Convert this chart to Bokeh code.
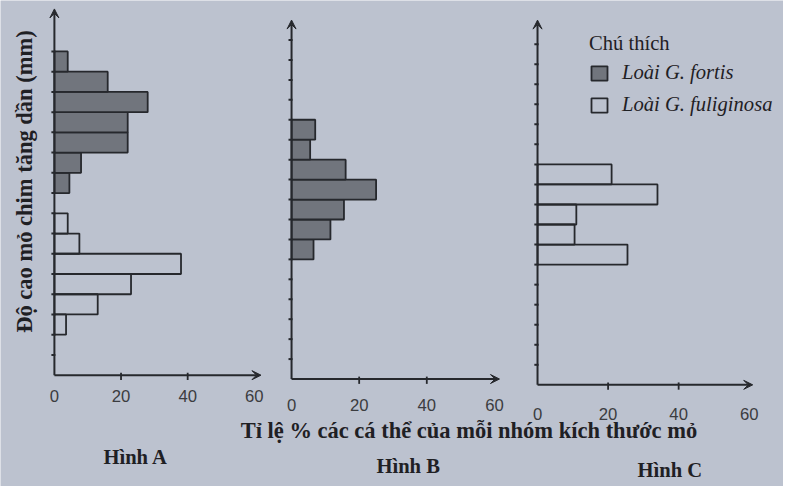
import math
from bokeh.plotting import figure
from bokeh.models import Range1d, Arrow, VeeHead, Legend, LegendItem
from bokeh.core.properties import value
from bokeh.embed import file_html
from bokeh.resources import INLINE

# ---------------- data (size class index from the bottom; % of individuals) ----------------
a_fortis_class = [10, 11, 12, 13, 14, 15, 16]
a_fortis_pct = [4.5, 8, 22, 22, 28, 16, 4]
a_fulig_class = [3, 4, 5, 6, 7, 8]
a_fulig_pct = [3.5, 13, 23, 38, 7.5, 4]
b_fortis_class = [7, 8, 9, 10, 11, 12, 13]
b_fortis_pct = [6.5, 11.5, 15.5, 25, 16, 5.5, 7]
c_fulig_class = [7, 8, 9, 10, 11]
c_fulig_pct = [25.5, 10.5, 11, 34, 21]

x_ticks = [0, 20, 40, 60]
x_tick_labels = ["0", "20", "40", "60"]
a_y_ticks = list(range(1, 17))
b_y_ticks = list(range(1, 18))
c_y_ticks = list(range(1, 18))
panel_titles = ["Hình A", "Hình B", "Hình C"]
y_title = "Độ cao mỏ chim tăng dần (mm)"
x_title = "Tỉ lệ % các cá thể của mỗi nhóm kích thước mỏ"
legend_title = "Chú thích"
fortis_name = "Loài G. fortis"
fulig_name = "Loài G. fuliginosa"

# ---------------- styles / layout ----------------
BG = "#bcc2cf"
DARK = "#71757d"
EDGE = "#26282d"
TXT = "#1f2024"
SERIF = "Liberation Serif"

# the canvas shows a 799 x 502 layout area scaled into 783 x 486 px
W, H = 783, 486
RW, RH = 799, 502
K = W / RW

def fs(px):
    return f"{px * K:.1f}px"

# panel geometry (layout units): origin, units per % and per size class, tick-label row
geom = {
    "A": dict(x0=55, y0=387, sx=3.4, sy=20.9, ly=409, xend=62, yend=18.1),
    "B": dict(x0=297, y0=391, sx=3.45, sy=20.6, ly=418, xend=61.5, yend=18.0),
    "C": dict(x0=548, y0=397, sx=3.6, sy=20.7, ly=427, xend=61, yend=18.2),
}

p = figure(width=W, height=H, x_range=Range1d(0, RW), y_range=Range1d(RH, 0),
           x_axis_type=None, y_axis_type=None, output_backend="svg",
           toolbar_location=None, min_border=0, background_fill_color=BG,
           border_fill_color=BG, outline_line_color=None)

for name, g in geom.items():
    p.extra_x_ranges[name] = Range1d((0 - g["x0"]) / g["sx"], (RW - g["x0"]) / g["sx"])
    p.extra_y_ranges[name] = Range1d((g["y0"] - RH) / g["sy"], (g["y0"] - 0) / g["sy"])

def bars(name, cls, pct, filled):
    return p.hbar(y=[c - 0.5 for c in cls], height=1, left=0, right=pct,
                  x_range_name=name, y_range_name=name,
                  fill_color=DARK if filled else BG, fill_alpha=1 if filled else 0,
                  line_color=EDGE, line_width=1.8)

ra1 = bars("A", a_fortis_class, a_fortis_pct, True)
ra2 = bars("A", a_fulig_class, a_fulig_pct, False)
rb1 = bars("B", b_fortis_class, b_fortis_pct, True)
rc1 = bars("C", c_fulig_class, c_fulig_pct, False)

yticks = {"A": a_y_ticks, "B": b_y_ticks, "C": c_y_ticks}
for name, g in geom.items():
    kw = dict(x_range_name=name, y_range_name=name)
    p.add_layout(Arrow(end=VeeHead(size=9, fill_color=EDGE, line_color=EDGE, line_width=1),
                       x_start=0, y_start=0, x_end=g["xend"], y_end=0,
                       line_color=EDGE, line_width=2, **kw))
    p.add_layout(Arrow(end=VeeHead(size=9, fill_color=EDGE, line_color=EDGE, line_width=1),
                       x_start=0, y_start=0, x_end=0, y_end=g["yend"],
                       line_color=EDGE, line_width=2, **kw))
    yt = yticks[name]
    p.segment(x0=[-0.9] * len(yt), y0=yt, x1=[0.3] * len(yt), y1=yt,
              line_color=EDGE, line_width=2, **kw)
    mid = [t for t in x_ticks if 0 < t < 60]
    p.segment(x0=mid, y0=[2.5 / g["sy"]] * len(mid), x1=mid, y1=[-5 / g["sy"]] * len(mid),
              line_color=EDGE, line_width=1.8, **kw)
    ly = (g["y0"] - g["ly"]) / g["sy"]
    p.text(x=x_ticks, y=[ly] * len(x_ticks), text=x_tick_labels,
           text_align="center", text_baseline="middle",
           text_font=value("Liberation Sans"), text_font_size=fs(17),
           text_color="#3b3c40", **kw)

# titles / axis labels
p.text(x=[25], y=[187], text=[y_title], angle=math.pi / 2, text_align="center",
       text_baseline="middle", text_font=value(SERIF), text_font_style="bold",
       text_font_size=fs(23), text_color=TXT)
p.text(x=[478], y=[444], text=[x_title], text_align="center", text_baseline="middle",
       text_font=value(SERIF), text_font_style="bold", text_font_size=fs(23),
       text_color=TXT)
p.text(x=[138, 416, 683], y=[472, 481, 485], text=panel_titles, text_align="center",
       text_baseline="middle", text_font=value(SERIF), text_font_style="bold",
       text_font_size=fs(21), text_color=TXT)

legend = Legend(items=[LegendItem(label=value(fortis_name), renderers=[ra1]),
                       LegendItem(label=value(fulig_name), renderers=[rc1])],
                location=(589, 370), title=legend_title,
                title_text_font=SERIF, title_text_font_style="normal",
                title_text_font_size=fs(21), title_text_color=TXT, title_standoff=6,
                label_text_font=SERIF, label_text_font_style="italic",
                label_text_font_size=fs(21), label_text_color=TXT,
                glyph_width=20, glyph_height=18, label_standoff=13, spacing=9,
                padding=0, margin=0, border_line_color=None, background_fill_alpha=0)
p.add_layout(legend)

open("out.html", "w").write(file_html(p, INLINE))
